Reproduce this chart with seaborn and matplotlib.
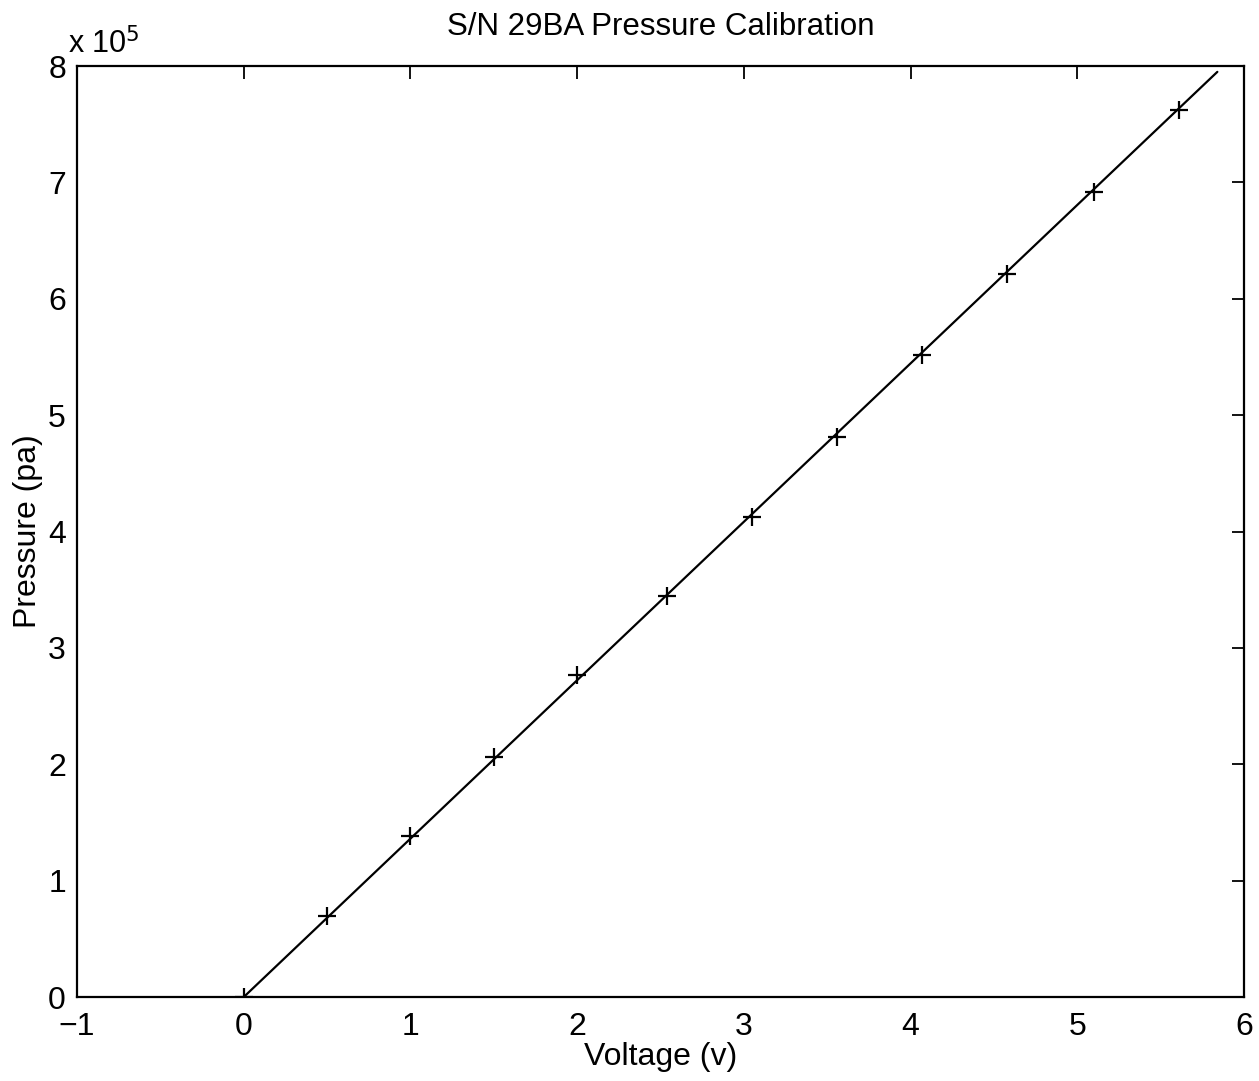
import numpy as np
import pandas as pd
import matplotlib
matplotlib.use('agg')
import matplotlib.pyplot as plt
import matplotlib.ticker as mticker
import seaborn as sns

# calibration readings
voltage = [0.0, 0.50, 1.00, 1.50, 2.00, 2.54, 3.05, 3.56, 4.07, 4.58, 5.10, 5.61]
pressure = [0.0, 0.696e5, 1.383e5, 2.062e5, 2.767e5, 3.446e5, 4.125e5, 4.812e5,
            5.517e5, 6.213e5, 6.917e5, 7.622e5]

# fitted line end points
fit_v = [0.0, 5.84]
fit_p = [0.0, 7.95e5]

sns.set_style('white')
plt.rcParams['font.family'] = ['Liberation Sans', 'DejaVu Sans']
plt.rcParams['text.color'] = 'black'
plt.rcParams['axes.labelcolor'] = 'black'
plt.rcParams['xtick.color'] = 'black'
plt.rcParams['ytick.color'] = 'black'

fig = plt.figure(figsize=(12.59, 10.81), dpi=100)
ax = fig.add_axes([0.0612, 0.0777, 0.9269, 0.8612])

data = pd.DataFrame({'v': voltage, 'p': pressure})
fit = pd.DataFrame({'v': fit_v, 'p': fit_p})

sns.lineplot(data=fit, x='v', y='p', color='black', linewidth=1.6, ax=ax)
sns.scatterplot(data=data, x='v', y='p', marker='+', s=180, color='black',
                linewidth=1.6, ax=ax, zorder=3)

ax.set_xlim(-1, 6)
ax.set_ylim(0, 8e5)
ax.set_xticks(range(-1, 7))
ax.set_yticks(np.arange(0, 9) * 1e5)
ax.yaxis.set_major_formatter(mticker.FuncFormatter(lambda v, p: f'{v / 1e5:g}'))

ax.tick_params(direction='in', length=9, width=1.3, labelsize=23,
               top=True, right=True)
ax.tick_params(axis='x', pad=11)
ax.tick_params(axis='y', pad=8)
for s in ax.spines.values():
    s.set_linewidth(1.6)
    s.set_color('black')

ax.set_xlabel('Voltage (v)', fontsize=23, labelpad=0)
ax.set_ylabel('Pressure (pa)', fontsize=23, labelpad=4)
ax.set_title('S/N 29BA Pressure Calibration', fontsize=22.5, pad=22)
ax.text(-0.008, 1.006, 'x 10$^5$', transform=ax.transAxes, fontsize=22,
        ha='left', va='bottom')

fig.savefig('out.png', dpi=100)
